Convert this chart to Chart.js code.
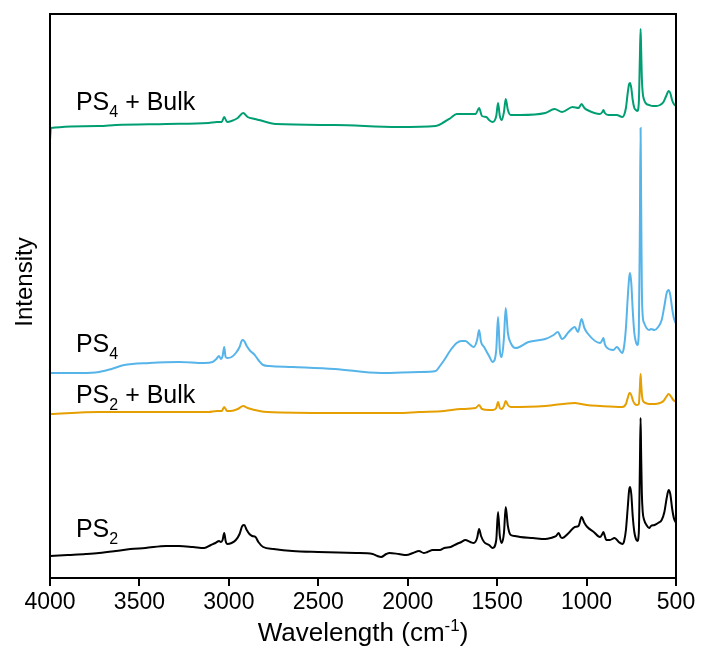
<!DOCTYPE html>
<html>
<head>
<meta charset="utf-8">
<script src="https://cdn.jsdelivr.net/npm/chart.js@4.4.1/dist/chart.umd.min.js"></script>
<style>
html, body { margin: 0; padding: 0; background: #fff; }
</style>
</head>
<body>
<canvas id="ftir" width="702" height="653"></canvas>
<script>
// spectra: wavenumber (cm-1) and offset intensity (a.u.)
const ps2Wn = [4000,3900,3800,3726,3632,3550,3467,3350,3279,3200,3138,3100,3075,3055,3045,3035,3026,3018,3008,2985,2961,2940,2925,2914,2900,2885,2870,2851,2835,2808,2750,2644,2500,2290,2196,2170,2149,2120,2102,2050,2008,1970,1937,1910,1890,1860,1843,1820,1796,1760,1726,1700,1678,1650,1631,1612,1601,1590,1573,1545,1525,1505,1495,1485,1474,1462,1452,1440,1424,1400,1372,1300,1231,1200,1184,1170,1156,1145,1137,1100,1066,1045,1028,1012,996,960,925,912,906,898,890,870,843,820,800,790,780,770,762,757,750,742,733,724,716,708,702,698,695,691,686,678,665,650,640,620,600,580,565,552,541,532,522,512,500];
const ps2Int = [22,23,24,25,27,29,30,32,32,31,30,33,35,37,36,38,45,37,34,35,38,44,52,53,48,44,42,41,36,31,29,27,26,25,24,22,21,24,25,24,23,25,27,25,26,28,28,28,30,31,34,36,38,36,35,40,49,42,36,33,30,38,66,42,35,45,71,52,43,42,41,40,39,40,41,42,45,41,40,45,51,52,61,55,51,46,41,44,46,42,38,38,40,36,34,37,48,70,88,91,84,62,46,39,37,45,110,160,125,85,66,58,53,50,52,53,55,58,66,80,88,84,70,60,55];

const ps2BulkWn = [4000,3726,3585,3350,3114,3067,3040,3026,3010,2990,2950,2920,2895,2855,2830,2785,2408,2055,1937,1796,1702,1620,1601,1585,1545,1525,1505,1495,1485,1474,1462,1452,1440,1424,1231,1066,1028,1000,925,800,780,770,760,757,750,740,730,718,708,702,698,695,690,684,670,650,620,590,570,555,541,530,515,500];
const ps2BulkInt = [164,166,166,166,166,167,167,171,167,167,169,172,170,168,167,166,165,165,166,167,169,170,173,169,168,168,170,176,170,169,172,177,173,171,172,175,174,173,172,171,174,180,185,185,183,177,174,173,174,190,204,195,182,177,175,174,174,175,177,181,184,182,178,176];

const ps4Wn = [4000,3820,3726,3656,3585,3444,3279,3138,3091,3070,3055,3045,3035,3026,3018,3008,2985,2961,2940,2925,2914,2900,2880,2860,2851,2835,2808,2773,2644,2408,2149,1937,1843,1820,1796,1760,1726,1700,1678,1655,1631,1612,1601,1590,1573,1545,1525,1505,1495,1485,1474,1462,1452,1440,1424,1396,1325,1231,1184,1161,1137,1100,1066,1048,1028,1012,996,925,912,906,898,890,850,831,800,790,780,770,762,757,750,742,733,724,716,708,702,698,695,691,686,678,665,650,640,620,600,580,565,552,541,532,522,512,500];
const ps4Int = [205,205,206,209,213,215,216,215,216,219,222,219,222,231,221,220,221,225,231,238,237,232,227,224,222,218,213,212,211,209,205,206,207,212,218,228,235,237,237,234,231,238,248,236,231,222,216,228,261,228,221,240,270,245,235,230,236,239,243,246,239,246,251,246,259,250,245,235,238,240,234,231,228,231,225,232,250,280,300,305,295,268,245,236,233,245,350,450,380,290,262,255,250,248,249,248,251,258,272,285,288,283,270,260,254];

const ps4BulkWn = [4000,3995,3726,3632,3350,3114,3067,3040,3026,3010,2985,2950,2920,2895,2855,2832,2738,2408,2055,1843,1796,1760,1726,1680,1655,1620,1601,1585,1561,1545,1525,1505,1495,1485,1474,1462,1452,1440,1424,1372,1231,1179,1137,1078,1045,1028,1012,996,925,912,906,898,878,831,800,790,780,770,762,757,750,742,733,724,716,708,702,698,695,691,686,678,665,650,630,610,590,570,555,541,532,522,512,500];
const ps4BulkInt = [438,450,452,453,454,455,456,456,461,456,457,460,465,461,459,458,454,453,451,452,456,460,464,464,464,464,470,462,461,458,456,462,475,462,458,466,479,468,463,463,465,469,466,471,470,474,470,468,464,466,468,465,463,463,461,463,470,485,494,495,490,478,470,468,467,475,520,549,530,500,485,478,474,473,472,472,473,476,482,487,485,478,474,472];

const seriesLabels = ['PS_2', 'PS_2 + Bulk', 'PS_4', 'PS_4 + Bulk'];
const seriesColors = ['#000000', '#E69F00', '#56B4E9', '#009E73'];
const xTicks = [4000, 3500, 3000, 2500, 2000, 1500, 1000, 500];

const FONT = 'Arial, "Liberation Sans", sans-serif';

function pts(wn, val) {
    return wn.map((w, i) => ({ x: w, y: val[i] }));
}

// text with "_x" subscript or "^x" superscript pieces
function drawRich(ctx, str, x, y, size, align) {
    const parts = [];
    const re = /([_^])(\{[^}]*\}|.)/g;
    let last = 0, m;
    while ((m = re.exec(str)) !== null) {
        if (m.index > last) parts.push({ t: str.slice(last, m.index), k: '' });
        parts.push({ t: m[2].replace(/[{}]/g, ''), k: m[1] });
        last = re.lastIndex;
    }
    if (last < str.length) parts.push({ t: str.slice(last), k: '' });
    const small = Math.round(size * 0.65);
    let w = 0;
    parts.forEach(p => {
        ctx.font = (p.k ? small : size) + 'px ' + FONT;
        p.w = ctx.measureText(p.t).width;
        w += p.w;
    });
    let cx = align === 'center' ? x - w / 2 : x;
    ctx.textAlign = 'left';
    ctx.textBaseline = 'alphabetic';
    parts.forEach(p => {
        ctx.font = (p.k ? small : size) + 'px ' + FONT;
        let dy = 0;
        if (p.k === '_') dy = size * 0.28;
        if (p.k === '^') dy = -size * 0.4;
        ctx.fillText(p.t, cx, y + dy);
        cx += p.w;
    });
}

const labelAnchors = [[3855, 41], [3855, 175], [3855, 226], [3855, 468]];

const decor = {
    id: 'decor',
    afterDraw(chart) {
        const { ctx, chartArea: a, scales } = chart;
        ctx.save();
        ctx.strokeStyle = '#000';
        ctx.lineWidth = 2;
        ctx.strokeRect(a.left, a.top, a.right - a.left, a.bottom - a.top);
        ctx.fillStyle = '#000';
        seriesLabels.forEach((s, i) => {
            const x = scales.x.getPixelForValue(labelAnchors[i][0]);
            const y = scales.y.getPixelForValue(labelAnchors[i][1]);
            drawRich(ctx, s, x, y, 25, 'left');
        });
        drawRich(ctx, 'Wavelength (cm^{-1})', (a.left + a.right) / 2, 641, 26, 'center');
        ctx.translate(32, 282);
        ctx.rotate(-Math.PI / 2);
        drawRich(ctx, 'Intensity', 0, 0, 24, 'center');
        ctx.restore();
    }
};

const series = [
    pts(ps2Wn, ps2Int),
    pts(ps2BulkWn, ps2BulkInt),
    pts(ps4Wn, ps4Int),
    pts(ps4BulkWn, ps4BulkInt)
];

new Chart(document.getElementById('ftir'), {
    type: 'line',
    data: {
        datasets: series.map((d, i) => ({
            label: seriesLabels[i],
            data: d,
            borderColor: seriesColors[i],
            borderWidth: 2,
            pointRadius: 0,
            cubicInterpolationMode: 'monotone',
            fill: false
        }))
    },
    options: {
        responsive: false,
        animation: false,
        devicePixelRatio: 1,
        layout: { padding: { left: 50, right: 26, top: 14, bottom: 0 } },
        plugins: { legend: { display: false }, tooltip: { enabled: false } },
        scales: {
            x: {
                type: 'linear',
                reverse: true,
                min: 500,
                max: 4000,
                afterBuildTicks: s => { s.ticks = xTicks.map(v => ({ value: v })); },
                afterFit: s => { s.height = 75; },
                ticks: {
                    color: '#000',
                    font: { family: FONT, size: 23 },
                    padding: 3,
                    maxRotation: 0,
                    autoSkip: false,
                    callback: v => String(v)
                },
                grid: { drawOnChartArea: false, drawTicks: true, tickLength: 8, color: '#000', lineWidth: 2 },
                border: { display: true, color: '#000', width: 2 }
            },
            y: { display: false, min: 0, max: 564 }
        }
    },
    plugins: [decor]
});
</script>
</body>
</html>
